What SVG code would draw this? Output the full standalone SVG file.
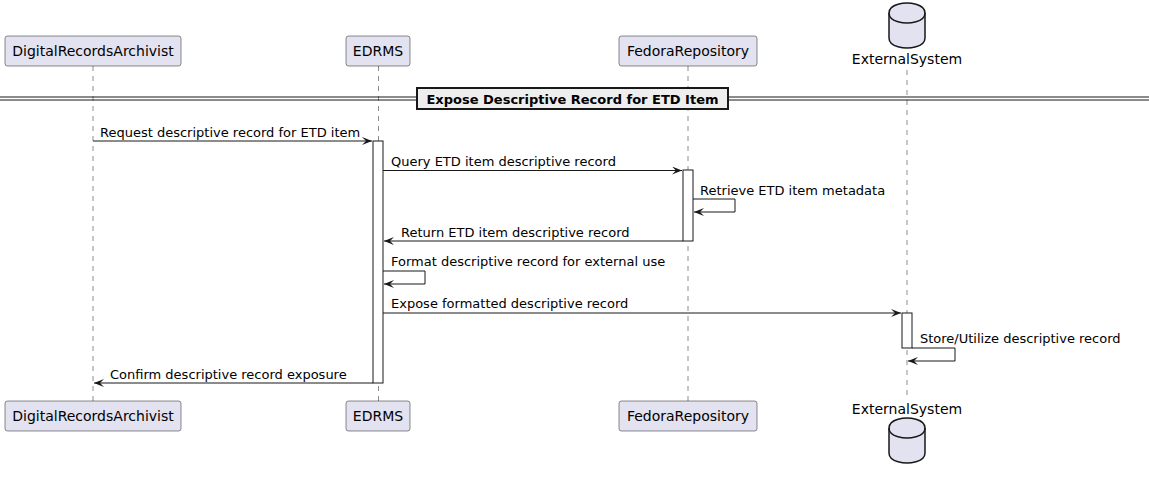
<svg xmlns="http://www.w3.org/2000/svg" width="1149" height="479" viewBox="0 0 1149 479">
<style>
.p{fill:#E2E2F0;stroke:#181818;stroke-width:0.5}
.pt{font-family:"DejaVu Sans",sans-serif;font-size:14px;fill:#000;text-anchor:middle}
.ll{stroke:#181818;stroke-width:0.5;stroke-dasharray:5,5;fill:none}
.m{stroke:#181818;stroke-width:1;fill:none}
.mt{font-family:"DejaVu Sans",sans-serif;font-size:13px;fill:#000}
.act{fill:#FFFFFF;stroke:#181818;stroke-width:1}
.db{fill:#E2E2F0;stroke:#181818;stroke-width:1.5}
</style>
<defs>
<marker id="ah" viewBox="0 0 10 8" refX="10" refY="4" markerWidth="10" markerHeight="8" markerUnits="userSpaceOnUse" orient="auto">
<polygon points="0,0 10,4 0,8 4,4" fill="#181818"/>
</marker>
</defs>
<rect width="1149" height="479" fill="#FFFFFF"/>
<g id="lifelines">
<line class="ll" x1="93" y1="66" x2="93" y2="401"/>
<line class="ll" x1="378.5" y1="66" x2="378.5" y2="401"/>
<line class="ll" x1="688" y1="66" x2="688" y2="401"/>
<line class="ll" x1="907" y1="70" x2="907" y2="400"/>
</g>
<g id="DigitalRecordsArchivist">
<rect class="p" x="5" y="36" width="176" height="30" rx="2.5"/>
<text class="pt" x="93" y="56">DigitalRecordsArchivist</text>
<rect class="p" x="5" y="401" width="176" height="30" rx="2.5"/>
<text class="pt" x="93" y="421">DigitalRecordsArchivist</text>
</g>
<g id="EDRMS">
<rect class="p" x="346" y="36" width="64" height="30" rx="2.5"/>
<text class="pt" x="378" y="56">EDRMS</text>
<rect class="p" x="346" y="401" width="64" height="30" rx="2.5"/>
<text class="pt" x="378" y="421">EDRMS</text>
</g>
<g id="FedoraRepository">
<rect class="p" x="619" y="36" width="138" height="30" rx="2.5"/>
<text class="pt" x="688" y="56">FedoraRepository</text>
<rect class="p" x="619" y="401" width="138" height="30" rx="2.5"/>
<text class="pt" x="688" y="421">FedoraRepository</text>
</g>
<g id="ExternalSystem">
<path class="db" d="M889,13 C889,3 907,3 907,3 C907,3 925,3 925,13 L925,38 C925,48 907,48 907,48 C907,48 889,48 889,38 Z"/>
<path class="db" style="fill:none" d="M889,13 C889,23 907,23 907,23 C907,23 925,23 925,13"/>
<text class="pt" x="907" y="64">ExternalSystem</text>
<text class="pt" x="907" y="414">ExternalSystem</text>
<path class="db" d="M889,428 C889,418 907,418 907,418 C907,418 925,418 925,428 L925,453 C925,463 907,463 907,463 C907,463 889,463 889,453 Z"/>
<path class="db" style="fill:none" d="M889,428 C889,438 907,438 907,438 C907,438 925,438 925,428"/>
</g>
<g id="separator">
<line x1="0" y1="97" x2="1149" y2="97" stroke="#181818" stroke-width="1"/>
<line x1="0" y1="100" x2="1149" y2="100" stroke="#181818" stroke-width="1"/>
<rect x="417" y="88" width="311" height="21" fill="#EEEEEE" stroke="#181818" stroke-width="2"/>
<text x="572.5" y="103.5" font-family="DejaVu Sans, sans-serif" font-size="13" font-weight="bold" text-anchor="middle" fill="#000">Expose Descriptive Record for ETD Item</text>
</g>
<g id="activations">
<rect class="act" x="373" y="141" width="10" height="242"/>
<rect class="act" x="683" y="170" width="10" height="71"/>
<rect class="act" x="902" y="313" width="10" height="35"/>
</g>
<g id="connectors">
<line class="m" x1="93" y1="141" x2="372" y2="141" marker-end="url(#ah)"/>
<text class="mt" x="100" y="136.5">Request descriptive record for ETD item</text>
<line class="m" x1="383" y1="170.5" x2="682" y2="170.5" marker-end="url(#ah)"/>
<text class="mt" x="391" y="165.5">Query ETD item descriptive record</text>
<polyline class="m" points="693,199 735,199 735,212 694,212" marker-end="url(#ah)"/>
<text class="mt" x="700" y="194.5">Retrieve ETD item metadata</text>
<line class="m" x1="683" y1="241" x2="384" y2="241" marker-end="url(#ah)"/>
<text class="mt" x="401" y="236.5">Return ETD item descriptive record</text>
<polyline class="m" points="383,271 425,271 425,284 384,284" marker-end="url(#ah)"/>
<text class="mt" x="391" y="266">Format descriptive record for external use</text>
<line class="m" x1="383" y1="313" x2="901" y2="313" marker-end="url(#ah)"/>
<text class="mt" x="391" y="308">Expose formatted descriptive record</text>
<polyline class="m" points="912,348 955,348 955,361 908,361" marker-end="url(#ah)"/>
<text class="mt" x="920" y="343">Store/Utilize descriptive record</text>
<line class="m" x1="373" y1="383" x2="94" y2="383" marker-end="url(#ah)"/>
<text class="mt" x="110" y="378.5">Confirm descriptive record exposure</text>
</g>
</svg>
